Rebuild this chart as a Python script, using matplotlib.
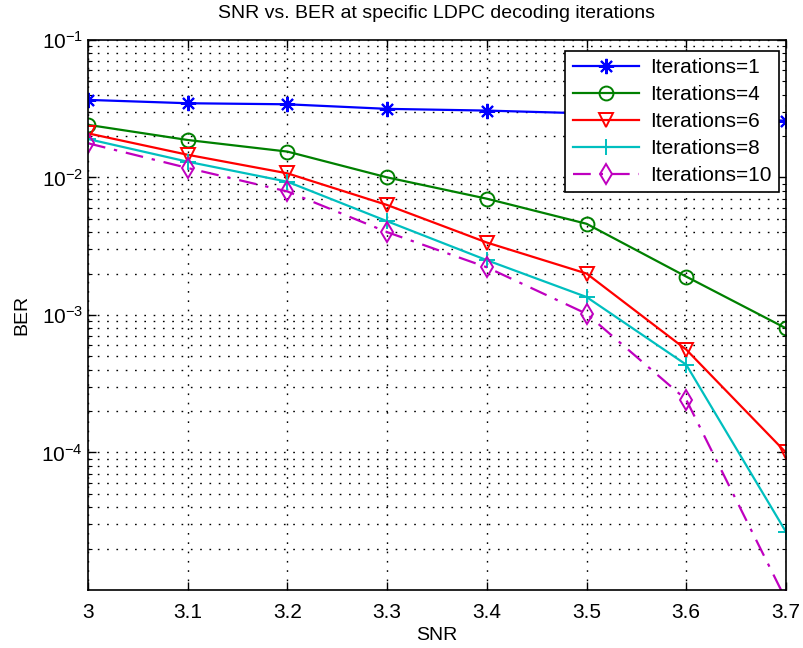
import matplotlib
matplotlib.use("Agg")
import matplotlib.pyplot as plt
from matplotlib.ticker import LogLocator, NullFormatter

plt.rcParams['font.family'] = ['Liberation Sans', 'DejaVu Sans']
plt.rcParams['mathtext.fontset'] = 'custom'
plt.rcParams['mathtext.rm'] = 'Liberation Sans'
plt.rcParams['mathtext.it'] = 'Liberation Sans'

# data
snr = [3.0, 3.1, 3.2, 3.3, 3.4, 3.5, 3.6, 3.7]
ber_it1 = [0.0366, 0.0346, 0.0340, 0.0315, 0.0306, 0.0292, 0.0280, 0.0258]
ber_it4 = [0.0241, 0.0187, 0.0154, 0.0100, 0.0070, 0.0046, 0.0019, 0.0008]
ber_it6 = [0.0209, 0.0146, 0.0107, 0.0063, 0.00336, 0.0020, 0.00056, 0.0001]
ber_it8 = [0.0190, 0.0130, 0.0093, 0.0048, 0.0025, 0.00135, 0.000435, 0.0000265]
ber_it10 = [0.0177, 0.0117, 0.0079, 0.0040, 0.00222, 0.00102, 0.000242, 0.0000085]
labels = ['Iterations=1', 'Iterations=4', 'Iterations=6', 'Iterations=8', 'Iterations=10']
x_ticks = [3, 3.1, 3.2, 3.3, 3.4, 3.5, 3.6, 3.7]
x_tick_labels = ['3', '3.1', '3.2', '3.3', '3.4', '3.5', '3.6', '3.7']

fig = plt.figure(figsize=(8.04, 6.48), dpi=100)
ax = fig.add_axes([0.1095, 0.0895, 0.868, 0.849])

ax.semilogy(snr, ber_it1, color=(0, 0, 1), marker=(8, 2, 0), ms=11, mew=1.5, lw=1.6, label=labels[0])
ax.semilogy(snr, ber_it4, color=(0, 0.5, 0), marker='o', ms=10, mfc='none', mew=1.4, lw=1.6, label=labels[1])
ax.semilogy(snr, ber_it6, color=(1, 0, 0), marker='v', ms=10, mfc='none', mew=1.4, lw=1.6, label=labels[2])
ax.semilogy(snr, ber_it8, color=(0, 0.75, 0.75), marker='+', ms=11, mew=1.4, lw=1.6, label=labels[3])
ax.semilogy(snr, ber_it10, color=(0.75, 0, 0.75), marker='d', ms=10, mfc='none', mew=1.4, lw=1.6,
            ls=(0, (8, 4, 1.5, 4)), label=labels[4])

ax.set_xlim(3, 3.7)
ax.set_ylim(1e-5, 1e-1)
ax.set_xticks(x_ticks)
ax.set_xticklabels(x_tick_labels)
ax.yaxis.set_minor_locator(LogLocator(base=10, subs=range(2, 10), numticks=20))
ax.yaxis.set_minor_formatter(NullFormatter())
ax.set_yticks([1e-4, 1e-3, 1e-2, 1e-1])

dots = (0, (1.2, 5.5))
ax.grid(True, which='major', color='black', ls=dots, lw=1.0)
ax.grid(True, which='minor', axis='y', color='black', ls=dots, lw=1.0)
ax.tick_params(which='both', direction='in', top=True, right=True, labelsize=15)
ax.tick_params(which='major', length=6, width=1)
ax.tick_params(which='minor', length=3, width=0.8)
ax.tick_params(axis='x', pad=9)
for s in ax.spines.values():
    s.set_linewidth(1.2)

ax.set_title('SNR vs. BER at specific LDPC decoding iterations', fontsize=14, pad=16)
ax.set_xlabel('SNR', fontsize=14, labelpad=4)
ax.set_ylabel('BER', fontsize=14, labelpad=8)

leg = ax.legend(loc='upper right', bbox_to_anchor=(0.9895, 0.98), fontsize=15, fancybox=False,
                framealpha=1, edgecolor='black', handlelength=3.2, borderpad=0.35,
                labelspacing=0.38, handletextpad=0.5, borderaxespad=0)
leg.get_frame().set_linewidth(1.2)

fig.savefig('out.png', dpi=100)
